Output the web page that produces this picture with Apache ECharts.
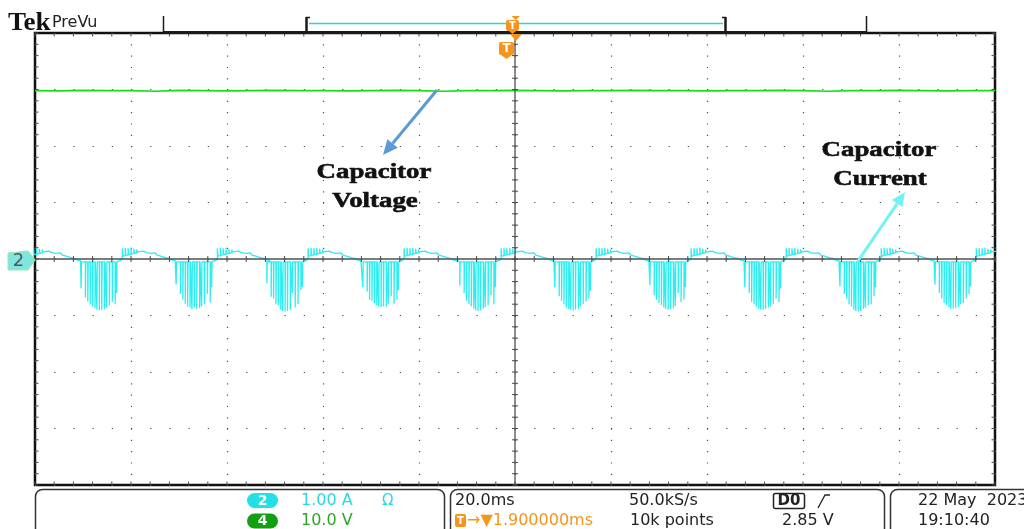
<!DOCTYPE html>
<html>
<head>
<meta charset="utf-8">
<script src="https://cdn.jsdelivr.net/npm/echarts@6/dist/echarts.min.js"></script>
<style>
  html, body { margin: 0; padding: 0; background: #fff; }
  #scope { width: 1024px; height: 529px; }
</style>
</head>
<body>
<div id="scope"></div>
<script>
// Horizontal: 20.0 ms/div, 10 divisions, trigger at the centre
const timeMin = -100, timeMax = 100, timeDiv = 20;
// CH2 current 1.00 A/div, CH4 voltage 10.0 V/div, 8 vertical divisions
const ampMin = -4, ampMax = 4, ampDiv = 1;
const voltMin = -40, voltMax = 40;

// start time (ms) of every negative current burst
const burstStart = [-110.1, -90.4, -70.6, -51.7, -31.7, -11.5, 8.3, 28.1, 47.9, 67.7, 87.5];
// switching spike positions inside a burst (ms after burst start)
const spikeOffset = [0, 0.9, 1.4, 1.9, 2.4, 2.9, 3.3, 3.8, 4.3, 4.9, 5.3, 5.9, 6.5, 7.1, 7.4];
// spike depth (A) for each burst
const spikeDepth = [
  [-0.48, -0.64, -0.72, -0.79, -0.84, -0.87, -0.9, -0.9, -0.89, -0.87, -0.84, -0.8, -0.74, -0.7, -0.52],
  [-0.52, -0.68, -0.75, -0.8, -0.84, -0.87, -0.9, -0.91, -0.9, -0.89, -0.86, -0.82, -0.76, -0.8, -0.6],
  [-0.45, -0.62, -0.72, -0.79, -0.84, -0.86, -0.89, -0.86, -0.88, -0.87, -0.84, -0.8, -0.62, -0.77, -0.5],
  [-0.43, -0.67, -0.7, -0.8, -0.82, -0.9, -0.92, -0.93, -0.92, -0.9, -0.6, -0.86, -0.8, -0.55, -0.5],
  [-0.5, -0.58, -0.72, -0.74, -0.78, -0.82, -0.84, -0.85, -0.84, -0.84, -0.8, -0.66, -0.79, -0.72, -0.55],
  [-0.47, -0.6, -0.74, -0.8, -0.84, -0.88, -0.91, -0.92, -0.91, -0.88, -0.85, -0.82, -0.64, -0.8, -0.5],
  [-0.5, -0.66, -0.74, -0.8, -0.86, -0.89, -0.9, -0.91, -0.9, -0.88, -0.84, -0.8, -0.75, -0.7, -0.56],
  [-0.46, -0.64, -0.72, -0.78, -0.82, -0.86, -0.88, -0.9, -0.89, -0.87, -0.83, -0.6, -0.76, -0.72, -0.5],
  [-0.5, -0.6, -0.76, -0.8, -0.85, -0.88, -0.9, -0.9, -0.88, -0.86, -0.84, -0.8, -0.7, -0.76, -0.52],
  [-0.48, -0.62, -0.7, -0.8, -0.84, -0.9, -0.92, -0.93, -0.92, -0.88, -0.86, -0.82, -0.8, -0.66, -0.5],
  [-0.45, -0.6, -0.7, -0.78, -0.82, -0.85, -0.88, -0.88, -0.87, -0.85, -0.8, -0.78, -0.7, -0.62, -0.48]
];
// current level between spikes during a burst (A)
const burstFloor = -0.05;
// positive charging hump after each burst: time after burst start (ms) and current (A)
const humpOffset = [7.6, 8.3, 8.6, 8.6, 8.7, 9.2, 9.2, 9.3, 9.8, 9.8, 9.9, 10.4, 10.4, 10.5, 11.0, 11.0, 11.1,
  11.6, 11.6, 11.7, 12.2, 12.6, 13.0, 13.4, 13.8, 14.2, 14.6, 15.0, 15.4, 15.8, 16.2, 16.6, 17.0, 17.4, 17.8,
  18.2, 18.6, 19.0, 19.6];
const humpValue = [-0.03, -0.02, 0.02, 0.19, 0.05, 0.06, 0.2, 0.07, 0.07, 0.19, 0.08, 0.08, 0.2, 0.09, 0.1, 0.18, 0.1,
  0.11, 0.17, 0.12, 0.13, 0.11, 0.14, 0.12, 0.11, 0.13, 0.1, 0.09, 0.11, 0.07, 0.08, 0.05, 0.07, 0.03, 0.05,
  0.01, 0.02, -0.02, -0.03];

// CH4 capacitor voltage samples (ms, V)
const voltTime = [-100, -95, -90, -85, -80, -75, -70, -65, -60, -55, -50, -45, -40, -35, -30, -25, -20, -15, -10, -5,
  0, 5, 10, 15, 20, 25, 30, 35, 40, 45, 50, 55, 60, 65, 70, 75, 80, 85, 90, 95, 100];
const voltValue = [29.8, 29.75, 29.85, 29.8, 29.8, 29.7, 29.85, 29.8, 29.75, 29.8, 29.85, 29.8, 29.8, 29.75, 29.8,
  29.85, 29.8, 29.7, 29.8, 29.8, 29.85, 29.8, 29.75, 29.8, 29.8, 29.85, 29.8, 29.8, 29.75, 29.8, 29.8, 29.85,
  29.8, 29.7, 29.8, 29.8, 29.85, 29.8, 29.75, 29.8, 29.8];

// build the current trace polyline
const currentData = [];
burstStart.forEach((t0, k) => {
  spikeOffset.forEach((o, i) => {
    const t = t0 + o;
    currentData.push([t, burstFloor], [t, spikeDepth[k][i]], [t + 0.08, burstFloor]);
  });
  humpOffset.forEach((o, i) => currentData.push([t0 + o, humpValue[i]]));
});
const voltData = voltTime.map((t, i) => [t, voltValue[i]]);

const CYAN = '#2aeef0';
const GREEN = '#14e014';
const ORANGE = '#f7941d';
const INK = '#1a1a1a';
const SANS = '"DejaVu Sans", sans-serif';
const SERIF = '"Liberation Serif", "Times New Roman", serif';

function arrow(x1, y1, x2, y2, color, w, head) {
  const a = Math.atan2(y2 - y1, x2 - x1);
  const bx = x2 - head * Math.cos(a), by = y2 - head * Math.sin(a);
  const px = Math.sin(a) * head * 0.45, py = -Math.cos(a) * head * 0.45;
  return [
    { type: 'line', z: 12, shape: { x1, y1, x2: bx, y2: by }, style: { stroke: color, lineWidth: w } },
    { type: 'polygon', z: 12, shape: { points: [[x2, y2], [bx + px, by + py], [bx - px, by - py]] }, style: { fill: color } }
  ];
}
function txt(x, y, text, font, fill, align) {
  return { type: 'text', x, y, z: 20,
    style: { text, font, fill, textAlign: align || 'left', textVerticalAlign: 'middle' } };
}
function line(x1, y1, x2, y2, color, w) {
  return { type: 'line', z: 10, shape: { x1, y1, x2, y2 }, style: { stroke: color, lineWidth: w } };
}
function label(x, y, text, sx) {
  return { type: 'text', x, y, scaleX: sx, z: 20,
    style: { text, font: 'bold 22px ' + SERIF, fill: '#111', stroke: '#111', lineWidth: 0.6,
      textAlign: 'center', textVerticalAlign: 'middle' } };
}

const graphics = [
  // header
  { type: 'text', x: 8, y: 24, scaleX: 1.08, z: 20,
    style: { text: 'Tek', font: 'bold 25px ' + SERIF, fill: '#111', textAlign: 'left', textVerticalAlign: 'middle' } },
  txt(52, 22.5, 'PreVu', '16px ' + SANS, '#222'),
  line(163.5, 16, 163.5, 33, INK, 1.5),
  line(163, 32.5, 866, 32.5, INK, 3),
  line(866.5, 16, 866.5, 33, INK, 1.5),
  line(306.5, 17, 306.5, 32, INK, 2.5),
  line(306, 17.5, 310, 17.5, INK, 1.5),
  line(725.5, 17, 725.5, 32, INK, 2.5),
  line(722, 17.5, 726, 17.5, INK, 1.5),
  line(309, 23.5, 723, 23.5, '#33d2d8', 1.6),
  // trigger position markers
  { type: 'polygon', z: 11, shape: { points: [[511.5, 16], [520, 16], [515.8, 20]] }, style: { fill: ORANGE } },
  { type: 'rect', z: 11, shape: { x: 506, y: 20, width: 13, height: 11, r: 2 }, style: { fill: ORANGE } },
  { type: 'polygon', z: 11, shape: { points: [[509, 31], [516, 31], [512.5, 34]] }, style: { fill: ORANGE } },
  txt(512.5, 26, 'T', 'bold 10px ' + SANS, '#fff', 'center'),
  { type: 'polygon', z: 11, shape: { points: [[510, 34], [522, 34], [516, 41]] }, style: { fill: ORANGE } },
  { type: 'rect', z: 11, shape: { x: 499, y: 42, width: 15, height: 13, r: 2 }, style: { fill: ORANGE } },
  { type: 'polygon', z: 11, shape: { points: [[501, 55], [512, 55], [506.5, 59]] }, style: { fill: ORANGE } },
  txt(506.5, 49, 'T', 'bold 12px ' + SANS, '#fff', 'center'),
  // CH2 ground marker
  { type: 'polygon', z: 11, shape: { points: [[8, 253], [28, 251], [35, 260], [28, 270], [8, 270]] },
    style: { fill: '#7fe6df', stroke: '#9be8a8', lineWidth: 1 } },
  txt(18.5, 261, '2', '18px ' + SANS, '#555', 'center'),
  // annotations
  label(374, 172, 'Capacitor', 1.22),
  label(375, 201, 'Voltage', 1.22),
  label(879, 150, 'Capacitor', 1.22),
  label(880, 179, 'Current', 1.22),
  ...arrow(437, 90, 383, 155, '#5b9bd5', 3, 15),
  ...arrow(858, 261, 905, 192, '#6ff3f3', 3, 14),
  // status bar frames
  { type: 'rect', z: 10, shape: { x: 35.5, y: 489.5, width: 409, height: 60, r: 7 }, style: { fill: 'none', stroke: '#333', lineWidth: 1.5 } },
  { type: 'rect', z: 10, shape: { x: 450.5, y: 489.5, width: 434, height: 60, r: 7 }, style: { fill: 'none', stroke: '#333', lineWidth: 1.5 } },
  { type: 'rect', z: 10, shape: { x: 890.5, y: 489.5, width: 150, height: 60, r: 7 }, style: { fill: 'none', stroke: '#333', lineWidth: 1.5 } },
  // channel readouts
  { type: 'rect', z: 10, shape: { x: 247, y: 493, width: 31, height: 15, r: 7.5 }, style: { fill: '#22e0e6' } },
  txt(262.5, 501, '2', 'bold 14px ' + SANS, '#fff', 'center'),
  { type: 'rect', z: 10, shape: { x: 247, y: 513.5, width: 31, height: 15, r: 7.5 }, style: { fill: '#12a012' } },
  txt(262.5, 521.5, '4', 'bold 14px ' + SANS, '#fff', 'center'),
  txt(301, 501, '1.00 A', '16px ' + SANS, '#2ad8e4'),
  txt(382, 501, 'Ω', '15px ' + SANS, '#2ad8e4'),
  txt(301, 521, '10.0 V', '16px ' + SANS, '#2aa62a'),
  // timebase / trigger readouts
  txt(455, 501, '20.0ms', '16px ' + SANS, '#222'),
  { type: 'rect', z: 10, shape: { x: 455, y: 514, width: 11, height: 13, r: 2 }, style: { fill: ORANGE } },
  txt(460.5, 521, 'T', 'bold 10px ' + SANS, '#fff', 'center'),
  txt(467, 521, '→▼1.900000ms', '16px ' + SANS, ORANGE),
  txt(629, 501, '50.0kS/s', '16px ' + SANS, '#222'),
  txt(630, 521, '10k points', '16px ' + SANS, '#222'),
  { type: 'rect', z: 10, shape: { x: 773.5, y: 493.5, width: 31, height: 15, r: 2 }, style: { fill: 'none', stroke: '#222', lineWidth: 1.5 } },
  txt(789, 501.5, 'D0', 'bold 15px ' + SANS, '#222', 'center'),
  { type: 'polyline', z: 10, shape: { points: [[818, 508], [825, 495], [830, 495]] }, style: { stroke: '#222', lineWidth: 1.3, fill: 'none' } },
  txt(782, 521, '2.85 V', '16px ' + SANS, '#222'),
  txt(918, 501, '22 May  2023', '16px ' + SANS, '#222'),
  txt(918, 521, '19:10:40', '16px ' + SANS, '#222')
];

const chart = echarts.init(document.getElementById('scope'), null, { renderer: 'canvas' });
chart.setOption({
  animation: false,
  backgroundColor: '#fff',
  grid: { left: 35, top: 33, width: 960, height: 452, show: true, borderColor: '#111', borderWidth: 2.5,
    backgroundColor: 'transparent', containLabel: false, outerBoundsMode: 'none' },
  xAxis: {
    type: 'value', min: timeMin, max: timeMax, interval: timeDiv,
    axisLine: { show: false }, axisTick: { show: false }, axisLabel: { show: false },
    splitLine: { show: true, lineStyle: { color: '#4c4c4c', width: 1.2, type: [1.2, 10.1] } }
  },
  yAxis: [
    { type: 'value', min: ampMin, max: ampMax, interval: ampDiv,
      axisLine: { show: false }, axisTick: { show: false }, axisLabel: { show: false },
      splitLine: { show: true, lineStyle: { color: '#4c4c4c', width: 1.2, type: [1.2, 18] } } },
    { type: 'value', min: voltMin, max: voltMax, show: false, splitLine: { show: false } }
  ],
  graphic: { elements: graphics },
  series: [
    {
      name: 'Capacitor Current', type: 'line', xAxisIndex: 0, yAxisIndex: 0, data: currentData,
      showSymbol: false, symbol: 'none', clip: true, z: 3,
      lineStyle: { color: CYAN, width: 1.3 }
    },
    {
      name: 'Capacitor Voltage', type: 'line', xAxisIndex: 0, yAxisIndex: 1, data: voltData,
      showSymbol: false, symbol: 'none', clip: true, z: 3,
      lineStyle: { color: GREEN, width: 1.6 }
    },
    {
      // centre cross and minor-division ticks of the graticule
      type: 'custom', xAxisIndex: 0, yAxisIndex: 0, silent: true, z: 5, clip: false,
      data: [[0, 0]],
      renderItem(params, api) {
        const kids = [];
        const seg = (x1, y1, x2, y2, w, c) => kids.push({ type: 'line',
          shape: { x1, y1, x2, y2 }, style: { stroke: c || '#4a4a4a', lineWidth: w } });
        const top = api.coord([0, ampMax])[1], bot = api.coord([0, ampMin])[1];
        const left = api.coord([timeMin, 0])[0], right = api.coord([timeMax, 0])[0];
        const c = api.coord([0, 0]);
        seg(c[0], top, c[0], bot, 1.3, '#505050');
        seg(left, c[1], right, c[1], 1.3, '#505050');
        for (let t = timeMin; t <= timeMax + 1e-6; t += timeDiv / 5) {
          const x = api.coord([t, 0])[0];
          seg(x, c[1] - 3, x, c[1] + 3, 1);
          seg(x, top, x, top + 3.5, 1);
          seg(x, bot - 3.5, x, bot, 1);
        }
        for (let v = ampMin; v <= ampMax + 1e-6; v += ampDiv / 5) {
          const y = api.coord([0, v])[1];
          seg(c[0] - 3, y, c[0] + 3, y, 1);
          seg(left, y, left + 3.5, y, 1);
          seg(right - 3.5, y, right, y, 1);
        }
        return { type: 'group', children: kids };
      }
    }
  ]
});
</script>
</body>
</html>
